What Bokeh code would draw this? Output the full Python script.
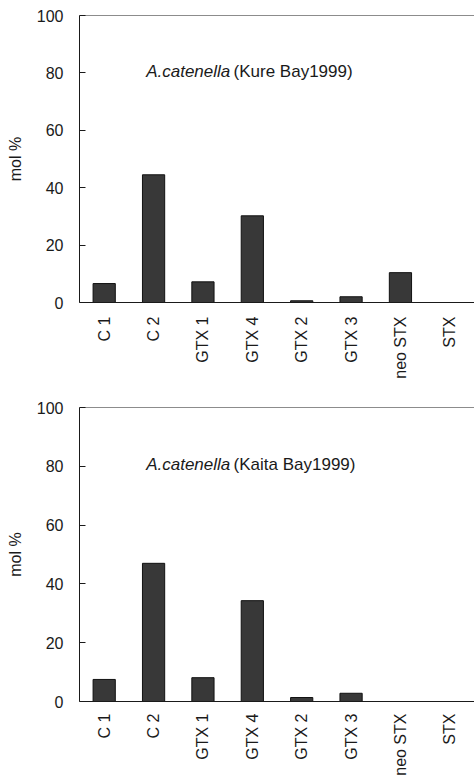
import math
from bokeh.plotting import figure
from bokeh.layouts import column
from bokeh.models import Span, FixedTicker, Range1d, ColumnDataSource
from bokeh.embed import file_html
from bokeh.resources import INLINE
from bokeh.core.properties import value

# ---- data ----
toxins = ["C 1", "C 2", "GTX 1", "GTX 4", "GTX 2", "GTX 3", "neo STX", "STX"]
kure_bay_1999 = [6.6, 44.5, 7.2, 30.2, 0.6, 2.0, 10.4, 0.0]
kaita_bay_1999 = [7.5, 47.0, 8.1, 34.3, 1.35, 2.8, 0.0, 0.0]
y_ticks = [0, 20, 40, 60, 80, 100]
species = "A.catenella"
site_kure = "(Kure Bay1999)"
site_kaita = "(Kaita Bay1999)"
y_label = "mol %"

FONT = "Liberation Sans"
INK = "#1a1a1a"


def make_panel(vals, site, height, border_top, border_bottom, standoff):
    p = figure(x_range=toxins, y_range=Range1d(0, 100), width=474, height=height,
               output_backend="svg", toolbar_location=None,
               min_border_left=79, min_border_right=0, min_border_top=border_top,
               min_border_bottom=border_bottom)
    p.outline_line_color = None
    p.background_fill_color = "white"
    p.border_fill_color = "white"
    p.xgrid.grid_line_color = None
    p.ygrid.grid_line_color = None

    src = ColumnDataSource(dict(x=toxins, top=vals))
    p.vbar(x="x", top="top", bottom=0, width=0.45, source=src,
           fill_color="#383838", line_color="#111111", line_width=1)

    # top frame line
    p.add_layout(Span(location=100, dimension="width", line_color=INK, line_width=1))

    # x axis
    xa = p.xaxis[0]
    xa.major_label_orientation = math.pi / 2
    xa.major_tick_line_color = None
    xa.major_tick_in = 0
    xa.major_tick_out = 0
    xa.major_label_standoff = standoff
    xa.major_label_text_font = FONT
    xa.major_label_text_font_size = "16px"
    xa.major_label_text_color = INK
    xa.axis_line_color = INK
    xa.axis_line_width = 1

    # y axis
    ya = p.yaxis[0]
    ya.ticker = FixedTicker(ticks=y_ticks)
    ya.major_tick_in = 6
    ya.major_tick_out = 0
    ya.minor_tick_line_color = None
    ya.major_tick_line_color = INK
    ya.axis_line_color = INK
    ya.major_label_standoff = 16
    ya.major_label_text_font = FONT
    ya.major_label_text_font_size = "16px"
    ya.major_label_text_color = INK
    ya.axis_label = y_label
    ya.axis_label_text_font = FONT
    ya.axis_label_text_font_size = "16px"
    ya.axis_label_text_font_style = "normal"
    ya.axis_label_text_color = INK
    ya.axis_label_standoff = 10

    # in-plot title (italic species + normal site)
    p.text(x=[1.35], y=[80.6], text=[species], text_font=value(FONT),
           text_font_size="17px", text_font_style="italic", text_color=INK,
           text_align="left", text_baseline="alphabetic")
    p.text(x=[3.12], y=[80.6], text=[site], text_font=value(FONT),
           text_font_size="17px", text_font_style="normal", text_color=INK,
           text_align="left", text_baseline="alphabetic")
    return p


p1 = make_panel(kure_bay_1999, site_kure, 395, 15, 93, 14)
p2 = make_panel(kaita_bay_1999, site_kaita, 383, 12, 75, 12)

layout = column(p1, p2, spacing=0)
open("out.html", "w").write(file_html(layout, INLINE))
